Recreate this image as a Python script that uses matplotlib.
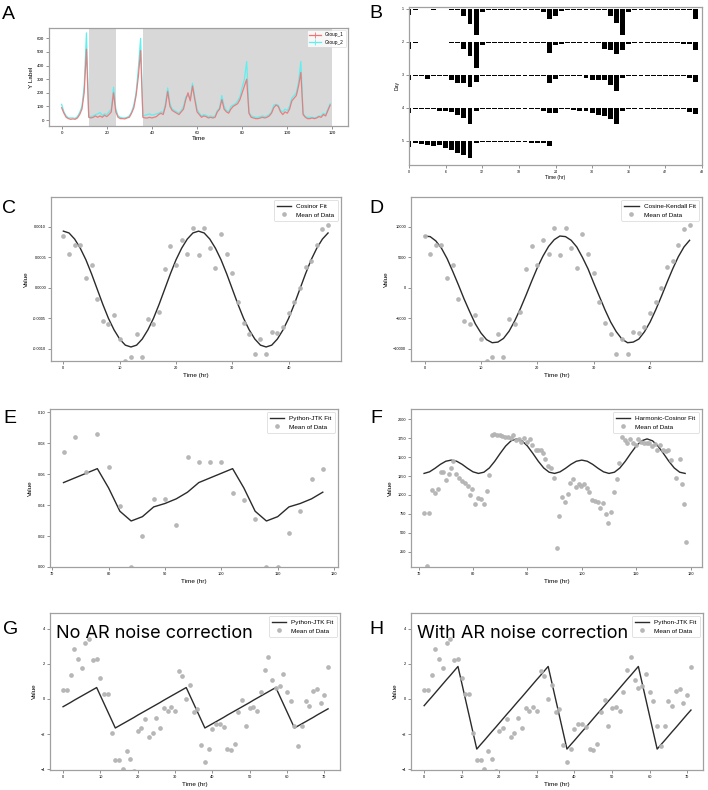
import numpy as np
import matplotlib
matplotlib.use("Agg")
import matplotlib.pyplot as plt
from matplotlib.lines import Line2D
from matplotlib.ticker import FormatStrFormatter

plt.rcParams['font.family'] = ['Liberation Sans', 'DejaVu Sans']

# ---------------- data ----------------
# A: two groups, hourly
a_time = list(range(120))
group_1 = [90, 50, 20, 10, 5, 8, 5, 15, 40, 80,
           200, 520, 20, 15, 20, 30, 20, 30, 20, 35,
           25, 40, 60, 200, 60, 20, 10, 10, 8, 15,
           20, 50, 90, 180, 320, 510, 20, 15, 15, 20,
           15, 20, 25, 40, 50, 40, 100, 210, 100, 70,
           60, 50, 40, 60, 80, 150, 200, 140, 250, 150,
           60, 40, 20, 30, 25, 15, 20, 15, 20, 60,
           80, 150, 80, 60, 50, 80, 100, 110, 120, 150,
           200, 250, 300, 50, 20, 15, 10, 10, 15, 20,
           15, 20, 30, 50, 90, 110, 100, 60, 40, 60,
           50, 80, 140, 160, 180, 250, 350, 40, 20, 10,
           10, 15, 10, 15, 25, 20, 40, 30, 70, 110]
group_2 = [115, 60, 30, 15, 15, 15, 12, 25, 55, 100,
           250, 640, 30, 25, 30, 40, 45, 55, 35, 45,
           40, 60, 80, 240, 80, 30, 20, 15, 15, 20,
           30, 60, 110, 200, 380, 600, 30, 35, 40, 45,
           35, 40, 45, 50, 60, 55, 120, 235, 120, 80,
           70, 60, 50, 70, 100, 170, 180, 160, 270, 170,
           80, 50, 30, 40, 35, 25, 30, 25, 30, 70,
           90, 180, 100, 70, 60, 100, 110, 120, 140, 170,
           240, 300, 430, 60, 30, 25, 20, 20, 25, 30,
           25, 30, 40, 60, 110, 115, 110, 70, 60, 80,
           70, 100, 160, 180, 200, 280, 430, 50, 25, 20,
           20, 20, 15, 20, 30, 30, 50, 40, 80, 120]
dark_spans = [(12, 24), (36, 120)]

# B: double-plotted actogram rows (bar depth in day units)
row_1 = [0.19, 0.04, 0.01, 0.01, 0.03, 0.01, 0.01, 0.03, 0.04, 0.2,
         0.45, 0.8, 0.08, 0.02, 0.02, 0.02, 0.02, 0.04, 0.02, 0.02,
         0.03, 0.03, 0.09, 0.3, 0.2, 0.07, 0.02, 0.02, 0.02, 0.02,
         0.02, 0.03, 0.04, 0.2, 0.43, 0.78, 0.1, 0.02, 0.02, 0.02,
         0.02, 0.02, 0.02, 0.02, 0.04, 0.02, 0.02, 0.3]
row_2 = [0.22, 0.04, 0.01, 0.01, 0.01, 0.01, 0.01, 0.03, 0.04, 0.21,
         0.43, 0.79, 0.09, 0.02, 0.02, 0.02, 0.02, 0.02, 0.02, 0.02,
         0.04, 0.02, 0.02, 0.32, 0.1, 0.05, 0.02, 0.04, 0.02, 0.02,
         0.02, 0.04, 0.2, 0.25, 0.37, 0.24, 0.05, 0.03, 0.03, 0.03,
         0.03, 0.03, 0.03, 0.03, 0.03, 0.05, 0.05, 0.25]
row_3 = [0.15, 0.04, 0.03, 0.13, 0.03, 0.03, 0.03, 0.15, 0.25, 0.25,
         0.38, 0.2, 0.04, 0.02, 0.02, 0.02, 0.02, 0.02, 0.02, 0.02,
         0.02, 0.03, 0.04, 0.23, 0.12, 0.04, 0.02, 0.02, 0.03, 0.1,
         0.15, 0.15, 0.15, 0.3, 0.5, 0.08, 0.03, 0.03, 0.03, 0.03,
         0.03, 0.03, 0.03, 0.03, 0.03, 0.03, 0.1, 0.2]
row_4 = [0.15, 0.04, 0.02, 0.02, 0.04, 0.1, 0.1, 0.12, 0.2, 0.3,
         0.5, 0.1, 0.03, 0.03, 0.04, 0.03, 0.03, 0.03, 0.03, 0.03,
         0.04, 0.04, 0.1, 0.15, 0.15, 0.04, 0.03, 0.05, 0.08, 0.1,
         0.15, 0.2, 0.25, 0.35, 0.5, 0.1, 0.03, 0.03, 0.03, 0.03,
         0.03, 0.03, 0.03, 0.03, 0.03, 0.04, 0.12, 0.17]
row_5 = [0.17, 0.05, 0.09, 0.12, 0.14, 0.12, 0.22, 0.28, 0.36, 0.43,
         0.51, 0.07, 0.03, 0.03, 0.03, 0.03, 0.03, 0.03, 0.03, 0.03,
         0.05, 0.05, 0.07, 0.14]
act_rows = [row_1, row_2, row_3, row_4, row_5]

# C / D: hourly means and fits
cd_time = list(range(48))
c_mean = [0.00085, 0.00055, 0.0007, 0.0007, 0.00016, 0.00037, -0.00019, -0.00055, -0.0006, -0.00045,
          -0.00084, -0.0012, -0.00114, -0.00076, -0.00113, -0.00051, -0.0006, -0.0004, 0.00031, 0.00068,
          0.00037, 0.00078, 0.00055, 0.00098, 0.00054, 0.00098, 0.00065, 0.00033, 0.00088, 0.00055,
          0.00025, -0.00023, -0.00058, -0.00076, -0.00109, -0.00084, -0.00108, -0.00073, -0.00074, -0.00065,
          -0.00042, -0.00023, 0.0, 0.00034, 0.00044, 0.00071, 0.00096, 0.00103]
c_fit = [0.00093, 0.0009, 0.0008, 0.00065, 0.00046, 0.00023, -0.00002, -0.00027, -0.0005, -0.00069,
         -0.00084, -0.00094, -0.00097, -0.00094, -0.00084, -0.00069, -0.0005, -0.00027, -0.00002, 0.00023,
         0.00046, 0.00065, 0.0008, 0.0009, 0.00093, 0.0009, 0.0008, 0.00065, 0.00046, 0.00023,
         -0.00002, -0.00027, -0.0005, -0.00069, -0.00084, -0.00094, -0.00097, -0.00094, -0.00084, -0.00069,
         -0.0005, -0.00027, -0.00002, 0.00023, 0.00046, 0.00065, 0.0008, 0.0009]
d_mean = [8500, 5500, 7000, 7000, 1600, 3700, -1900, -5500, -6000, -4500,
          -8400, -12000, -11400, -7600, -11300, -5100, -6000, -4000, 3100, 6800,
          3700, 7800, 5500, 9800, 5400, 9800, 6500, 3300, 8800, 5500,
          2500, -2300, -5800, -7600, -10900, -8400, -10800, -7300, -7400, -6500,
          -4200, -2300, 0, 3400, 4400, 7100, 9600, 10300]
d_fit = [8500, 8400, 7700, 6500, 4800, 2700, 500, -1800, -3900, -5900, -7400, -8500,
         -9000, -8900, -8300, -7100, -5400, -3400, -1200, 1100, 3300, 5200, 6800, 7900,
         8500, 8400, 7800, 6700, 5000, 3100, 800, -1400, -3600, -5600, -7200, -8400,
         -9000, -8900, -8400, -7200, -5600, -3600, -1400, 900, 3100, 5100, 6700, 7800]

# E: 2-hourly means and JTK fit
e_time = list(range(72, 120, 2))
e_mean = [0.0745, 0.0837, 0.0616, 0.0857, 0.0644, 0.0397, 0.0, 0.0199, 0.0442, 0.0442,
          0.0274, 0.0708, 0.0676, 0.0678, 0.0678, 0.048, 0.0435, 0.0311, 0.0, 0.0,
          0.0221, 0.036, 0.0565, 0.0633]
e_fit = [0.0545, 0.0575, 0.0605, 0.0635, 0.051, 0.036, 0.0297, 0.0325, 0.0388, 0.041,
         0.044, 0.0483, 0.0545, 0.0575, 0.0605, 0.0635, 0.051, 0.036, 0.0297, 0.0325,
         0.0388, 0.041, 0.044, 0.0483]

# F: half-hourly means and harmonic fit
f_time = [71.0, 71.5, 72.0, 72.5, 73.1, 73.6, 74.1, 74.5, 75.0, 75.5, 76.0, 76.4, 76.9, 77.4, 78.0,
          78.5, 79.0, 79.5, 79.9, 80.4, 80.9, 81.4, 82.0, 82.5, 83.0, 83.5, 83.9, 84.4, 84.9, 85.4,
          85.9, 86.4, 86.9, 87.4, 87.9, 88.4, 88.9, 89.4, 89.9, 90.4, 90.9, 91.5, 92.0, 92.5, 92.9,
          93.3, 93.8, 94.3, 94.9, 95.4, 95.9, 96.4, 96.9, 97.4, 97.9, 98.4, 98.9, 99.4, 99.9, 100.4,
          100.9, 101.4, 101.9, 102.4, 102.9, 103.4, 103.9, 104.4, 104.9, 105.4, 105.9, 106.4, 106.9,
          107.4, 107.9, 108.4, 108.9, 109.4, 109.9, 110.4, 110.9, 111.4, 111.9, 112.4, 112.9, 113.4,
          113.9, 114.4, 114.9, 115.4, 115.9, 116.4, 117.4, 118.0, 118.4, 118.8, 119.2]
f_mean = [758, 60, 758, 1066, 1022, 1074, 1302, 1307, 1193, 1272, 1351, 1447, 1272, 1219, 1188,
          1153, 1118, 1004, 1074, 881, 965, 943, 881, 1052, 1263, 1789, 1803, 1794, 1785, 1776,
          1767, 1759, 1746, 1789, 1720, 1745, 1700, 1750, 1705, 1745, 1660, 1592, 1592, 1600, 1548,
          1470, 1382, 1360, 1219, 298, 723, 978, 912, 1009, 1162, 1206, 1101, 1145, 1118, 1145,
          1096, 1039, 934, 921, 903, 833, 899, 745, 627, 780, 1044, 1210, 1417,
          1770, 1720, 1690, 1735, 1680, 1660, 1740, 1700, 1690, 1690, 1680, 1650, 1670,
          1600, 1660, 1600, 1580, 1600, 1460, 1220, 1470, 1145, 877, 377]
f_fit_time = list(range(71, 120))
f_fit = [1284, 1305, 1351, 1404, 1445, 1460, 1445, 1404, 1351, 1305, 1284, 1300, 1356, 1445,
         1549, 1646, 1715, 1740, 1715, 1646, 1549, 1445, 1356, 1300, 1284, 1305, 1351, 1404,
         1445, 1460, 1445, 1404, 1351, 1305, 1284, 1300, 1356, 1445, 1549, 1646, 1715, 1740,
         1715, 1646, 1549, 1445, 1356, 1300, 1284]

# G / H: same hourly means, JTK fit without / with AR noise correction
gh_time = list(range(72))
gh_mean = [0.51, 0.51, 1.34, 2.86, 2.25, 1.78, 3.18, 3.39, 2.22, 2.27,
           1.21, 0.30, 0.30, -1.93, -3.48, -3.48, -3.96, -2.95, -3.39, -4.1,
           -1.80, -1.63, -1.12, -2.14, -1.93, -1.10, -1.67, -0.53, -0.66, -0.47,
           -0.68, 1.57, 1.33, -0.02, 0.78, -0.74, -0.55, -2.61, -3.58, -2.82,
           -1.72, -1.42, -1.42, -1.61, -2.82, -2.90, -2.58, -0.76, -0.05, -1.52,
           -0.53, -0.44, -0.66, 0.42, 1.63, 2.37, 1.08, 0.62, 0.76, 1.40,
           0.40, -0.13, -1.53, -2.67, -1.53, -0.10, -0.40, 0.47, 0.59, -0.25,
           0.21, 1.82]
g_fit = [-0.44, -0.32, -0.20, -0.07, 0.05, 0.17, 0.29, 0.41, 0.53, 0.65, 0.19, -0.27,
         -0.73, -1.19, -1.65, -1.53, -1.41, -1.29, -1.17, -1.05, -0.92, -0.80, -0.68, -0.56,
         -0.44, -0.32, -0.20, -0.07, 0.05, 0.17, 0.29, 0.41, 0.53, 0.65, 0.19, -0.27,
         -0.73, -1.19, -1.65, -1.53, -1.41, -1.29, -1.17, -1.05, -0.92, -0.80, -0.68, -0.56,
         -0.44, -0.32, -0.20, -0.07, 0.05, 0.17, 0.29, 0.41, 0.53, 0.65, 0.19, -0.27,
         -0.73, -1.19, -1.65, -1.53, -1.41, -1.29, -1.17, -1.05, -0.92, -0.80, -0.68, -0.56]
h_fit = [-0.38, -0.13, 0.11, 0.36, 0.61, 0.86, 1.11, 1.35, 1.60, 1.85, 0.91, -0.03,
         -0.97, -1.91, -2.85, -2.60, -2.36, -2.11, -1.86, -1.62, -1.37, -1.12, -0.87, -0.63,
         -0.38, -0.13, 0.11, 0.36, 0.61, 0.86, 1.11, 1.35, 1.60, 1.85, 0.91, -0.03,
         -0.97, -1.91, -2.85, -2.60, -2.36, -2.11, -1.86, -1.62, -1.37, -1.12, -0.87, -0.63,
         -0.38, -0.13, 0.11, 0.36, 0.61, 0.86, 1.11, 1.35, 1.60, 1.85, 0.91, -0.03,
         -0.97, -1.91, -2.85, -2.60, -2.36, -2.11, -1.86, -1.62, -1.37, -1.12, -0.87, -0.63]

# ---------------- figure ----------------
W, H = 708, 790
fig = plt.figure(figsize=(W / 100, H / 100), dpi=100)


def box(l, r, t, b):
    # pixel box -> axes
    return fig.add_axes([l / W, 1 - b / H, (r - l) / W, (b - t) / H])


def style(ax, tick=2.8, lab=4.6):
    for s in ax.spines.values():
        s.set_color('#a0a0a0')
        s.set_linewidth(0.9)
    ax.tick_params(labelsize=tick, length=2, width=0.5, color='#666666', pad=1.5)
    ax.xaxis.label.set_size(lab)
    ax.yaxis.label.set_size(lab)


def leg(ax, fs=4.6):
    lg = ax.legend(loc='upper right', fontsize=fs, numpoints=1, handlelength=2.2,
                   borderpad=0.5, labelspacing=0.5, fancybox=True, borderaxespad=0.5)
    lg.get_frame().set_edgecolor('#cccccc')
    lg.get_frame().set_linewidth(0.5)


pt_kw = dict(ls='none', marker='o', ms=2.4, color='#b3b3b3', mec='#b3b3b3', alpha=0.9, label='Mean of Data')
fit_kw = dict(color='#2b2b2b', lw=1.0)

# A
ax = box(49, 348, 28, 126)
for s0, s1 in dark_spans:
    ax.axvspan(s0, s1, color='#d8d8d8', lw=0, zorder=0)
ax.plot(a_time, group_2, color='#5ef0f0', lw=0.9, zorder=2)
ax.plot(a_time, group_1, color='#f07272', lw=0.9, alpha=0.9, zorder=3)
ax.set_xlim(-5.6, 126.9)
ax.set_ylim(-44, 676)
ax.set_xticks(range(0, 121, 20))
ax.set_yticks(range(0, 601, 100))
ax.set_xlabel('Time', labelpad=1)
ax.set_ylabel('Y Label', labelpad=2)
style(ax, tick=3.2, lab=4.6)
handles = [Line2D([], [], color='#f07272', lw=0.9, marker='|', ms=5, mew=0.6),
           Line2D([], [], color='#5ef0f0', lw=0.9, marker='|', ms=5, mew=0.6)]
lg = ax.legend(handles, ['Group_1', 'Group_2'], loc='upper right', fontsize=3.4,
               handlelength=2.5, borderpad=0.4, fancybox=True)
lg.get_frame().set_edgecolor('#cccccc')
lg.get_frame().set_linewidth(0.4)

# B
ax = box(409, 702, 7, 165)
for i, vals in enumerate(act_rows):
    day = i + 1
    ax.bar(range(len(vals)), vals, width=0.8, bottom=day, color='black', lw=0)
ax.set_xlim(0, 48)
ax.set_ylim(5.73, 0.94)
ax.set_xticks(range(0, 49, 6))
ax.set_yticks(range(1, 6))
ax.set_xlabel('Time (hr)', labelpad=1)
ax.set_ylabel('Day', labelpad=2)
style(ax, tick=2.6, lab=3.6)

# C
ax = box(51, 341, 197, 361)
ax.plot(cd_time, c_fit, label='Cosinor Fit', **fit_kw)
ax.plot(cd_time, c_mean, **pt_kw)
ax.set_xlim(-2.2, 49.3)
ax.set_ylim(-0.0012, 0.00149)
ax.set_xticks(range(0, 41, 10))
ax.set_yticks([-0.001, -0.0005, 0, 0.0005, 0.001])
ax.yaxis.set_major_formatter(FormatStrFormatter('%.4f'))
ax.set_xlabel('Time (hr)', labelpad=2)
ax.set_ylabel('Value', labelpad=3)
style(ax)
leg(ax)

# D
ax = box(411, 702, 197, 361)
ax.plot(cd_time, d_fit, label='Cosine-Kendall Fit', **fit_kw)
ax.plot(cd_time, d_mean, **pt_kw)
ax.set_xlim(-2.4, 49.2)
ax.set_ylim(-12000, 14900)
ax.set_xticks(range(0, 41, 10))
ax.set_yticks(range(-10000, 10001, 5000))
ax.set_xlabel('Time (hr)', labelpad=2)
ax.set_ylabel('Value', labelpad=3)
style(ax)
leg(ax)

# E
ax = box(50, 338, 409, 567)
ax.plot(e_time, e_fit, label='Python-JTK Fit', **fit_kw)
ax.plot(e_time, e_mean, **pt_kw)
ax.set_xlim(69.6, 120.7)
ax.set_ylim(0, 0.102)
ax.set_xticks(range(70, 121, 10))
ax.set_yticks([0, 0.02, 0.04, 0.06, 0.08, 0.10])
ax.yaxis.set_major_formatter(FormatStrFormatter('%.2f'))
ax.set_xlabel('Time (hr)', labelpad=2)
ax.set_ylabel('Value', labelpad=3)
style(ax)
leg(ax)

# F
ax = box(411, 702, 409, 567)
ax.plot(f_fit_time, f_fit, label='Harmonic-Cosinor Fit', **fit_kw)
ax.plot(f_time, f_mean, **pt_kw)
ax.set_xlim(68.6, 122.1)
ax.set_ylim(48, 2135)
ax.set_xticks(range(70, 121, 10))
ax.set_yticks(range(250, 2001, 250))
ax.set_xlabel('Time (hr)', labelpad=2)
ax.set_ylabel('Value', labelpad=3)
style(ax)
leg(ax)

# G / H
for (l, r), fit, title in [((50, 340), g_fit, 'No AR noise correction'),
                           ((411, 703), h_fit, 'With AR noise correction')]:
    ax = box(l, r, 613, 770)
    ax.plot(gh_time, fit, label='Python-JTK Fit', **fit_kw)
    ax.plot(gh_time, gh_mean, **pt_kw)
    ax.set_xlim(-3.5, 74.2)
    ax.set_ylim(-4.04, 4.89)
    ax.set_xticks(range(0, 71, 10))
    ax.set_yticks([-4, -2, 0, 2, 4])
    ax.set_xlabel('Time (hr)', labelpad=2)
    ax.set_ylabel('Value', labelpad=3)
    style(ax)
    leg(ax)
    ax.text(0.021, 0.84, title, transform=ax.transAxes, fontsize=13,
            family=['Inter', 'DejaVu Sans'], va='baseline', ha='left')

# panel letters
letters = [('A', 2, 19), ('B', 369, 18), ('C', 2, 213), ('D', 369, 213),
           ('E', 3, 423), ('F', 370, 423), ('G', 3, 634), ('H', 369, 634)]
for name, x, y in letters:
    fig.text(x / W, 1 - y / H, name, fontsize=14, va='baseline', ha='left')

fig.savefig('out.png', dpi=100)
